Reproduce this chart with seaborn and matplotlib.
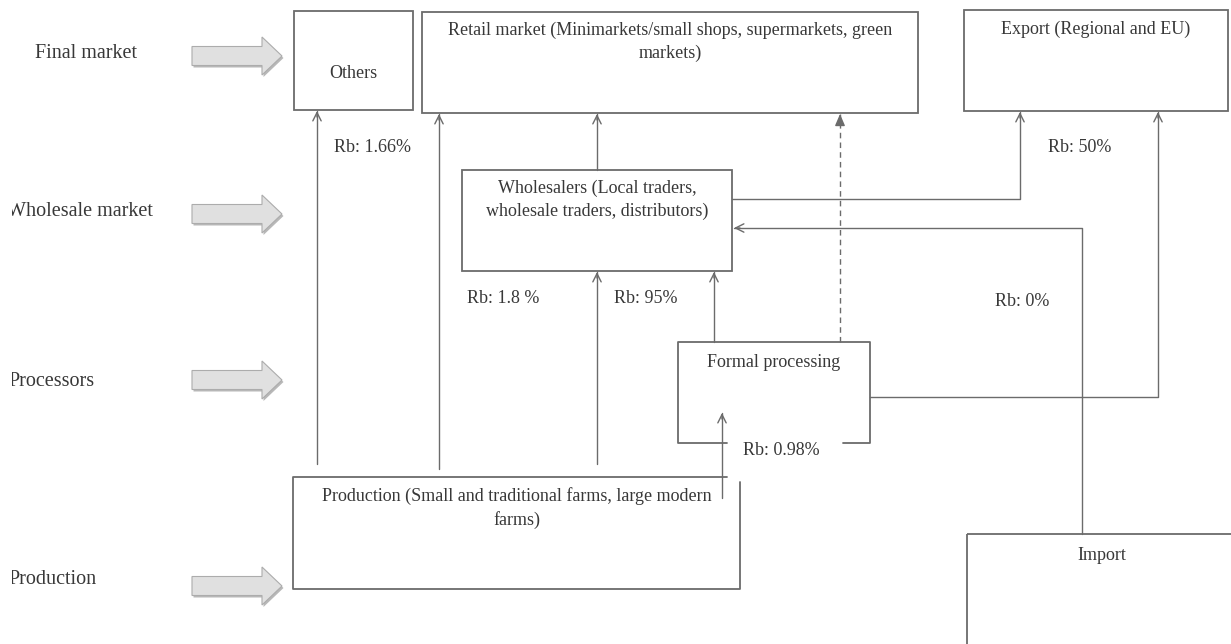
import matplotlib.pyplot as plt
from matplotlib.patches import Rectangle, Polygon
import seaborn as sns

# Diagram content
levels = ['Final market', 'Wholesale market', 'Processors', 'Production']
box_names = ['others', 'retail', 'export', 'wholesale', 'processing', 'production', 'import']
box_labels = ['Others',
              'Retail market (Minimarkets/small shops, supermarkets, green\nmarkets)',
              'Export (Regional and EU)',
              'Wholesalers (Local traders,\nwholesale traders, distributors)',
              'Formal processing',
              'Production (Small and traditional farms, large modern\nfarms)',
              'Import']
flow_labels = ['Rb: 1.66%', 'Rb: 50%', 'Rb: 1.8 %', 'Rb: 95%', 'Rb: 0%', 'Rb: 0.98%']

# Layout (pixel coordinates, y downwards)
level_pos = [(35, 53), (7, 211), (8, 381), (8, 579)]
level_arrow_y = [56, 214, 380, 586]
box_rect = {  # x0, y0, x1, y1
    'others': (294, 11, 413, 110),
    'retail': (422, 12, 918, 113),
    'export': (964, 10, 1228, 111),
    'wholesale': (462, 170, 732, 271),
    'processing': (678, 342, 870, 443),
    'production': (293, 477, 740, 589),
    'import': (967, 534, 1300, 700),
}
box_text_y = {'others': 73, 'retail': 42, 'export': 29, 'wholesale': 200,
              'processing': 362, 'production': 508, 'import': 555}
flow_pos = [(373, 147), (1080, 147), (503, 298), (646, 298), (1022, 301), (781, 450)]

line_col = '#6b6b6b'
text_col = '#383838'

sns.set_theme(style='white')
plt.rcParams['font.family'] = ['Liberation Serif', 'DejaVu Serif']

# axes starts a little inside the figure, so the left labels get cut like in the source
fig = plt.figure(figsize=(12.31, 6.44), dpi=100)
ax = fig.add_axes([12 / 1231, 0, 1219 / 1231, 1])
ax.set_xlim(12, 1231)
ax.set_ylim(644, 0)
ax.axis('off')

# Level labels and block arrows on the left
for name, (x, y), ay in zip(levels, level_pos, level_arrow_y):
    ax.text(x, y, name, fontsize=14.5, color=text_col, ha='left', va='center', clip_on=True)
    pts = [(192, ay - 9.5), (262, ay - 9.5), (262, ay - 19), (282, ay),
           (262, ay + 19), (262, ay + 9.5), (192, ay + 9.5)]
    shadow = [(px + 1.5, py + 2) for px, py in pts]
    ax.add_patch(Polygon(shadow, closed=True, facecolor='#b8b8b8', edgecolor='none'))
    ax.add_patch(Polygon(pts, closed=True, facecolor='#e0e0e0', edgecolor='#acacac', lw=0.8))

# Boxes
for name, label in zip(box_names, box_labels):
    x0, y0, x1, y1 = box_rect[name]
    if name == 'production':
        # top edge stops at the arrow, right edge starts a bit lower
        ax.plot([727, x0, x0, x1, x1], [y0, y0, y1, y1, 482], color=line_col, lw=1.3)
    elif name == 'processing':
        # bottom edge is broken by the share label
        ax.plot([727, x0, x0, x1, x1, 843], [y1, y1, y0, y0, y1, y1], color=line_col, lw=1.3)
    else:
        ax.add_patch(Rectangle((x0, y0), x1 - x0, y1 - y0, fill=False,
                               edgecolor=line_col, lw=1.3))
    cx = (x0 + x1) / 2 if name != 'import' else 1102
    ax.text(cx, box_text_y[name], label, fontsize=13, color=text_col,
            ha='center', va='center', linespacing=1.45)

# Flow share labels
for label, (x, y) in zip(flow_labels, flow_pos):
    ax.text(x, y, label, fontsize=13, color=text_col, ha='center', va='center')


def flow(xs, ys, dashed=False, filled=False):
    ax.plot(xs, ys, color=line_col, lw=1.0, ls=(0, (4, 3)) if dashed else '-')
    x1, y1 = xs[-1], ys[-1]
    x0, y0 = xs[-2], ys[-2]
    dx, dy = x1 - x0, y1 - y0
    d = (dx ** 2 + dy ** 2) ** 0.5
    style = '-|>,head_length=0.7,head_width=0.3' if filled else '->,head_length=0.6,head_width=0.3'
    ax.annotate('', xy=(x1, y1), xytext=(x1 - 6 * dx / d, y1 - 6 * dy / d),
                arrowprops=dict(arrowstyle=style, color=line_col, lw=1.0,
                                shrinkA=0, shrinkB=0, mutation_scale=10))


flow([317, 317], [464, 111])          # production -> others
flow([439, 439], [469, 114])          # production -> retail
flow([597, 597], [464, 272])          # production -> wholesalers
flow([597, 597], [170, 114])          # wholesalers -> retail
flow([714, 714], [342, 272])          # processing -> wholesalers
flow([840, 840], [342, 114], dashed=True, filled=True)  # processing -> retail
flow([732, 1020, 1020], [199, 199, 112])   # wholesalers -> export
flow([870, 1158, 1158], [397, 397, 112])   # processing -> export
flow([1082, 1082, 734], [534, 228, 228])   # import -> wholesalers
flow([722, 722], [498, 413])          # production -> processing

fig.savefig('out.png', dpi=100)
